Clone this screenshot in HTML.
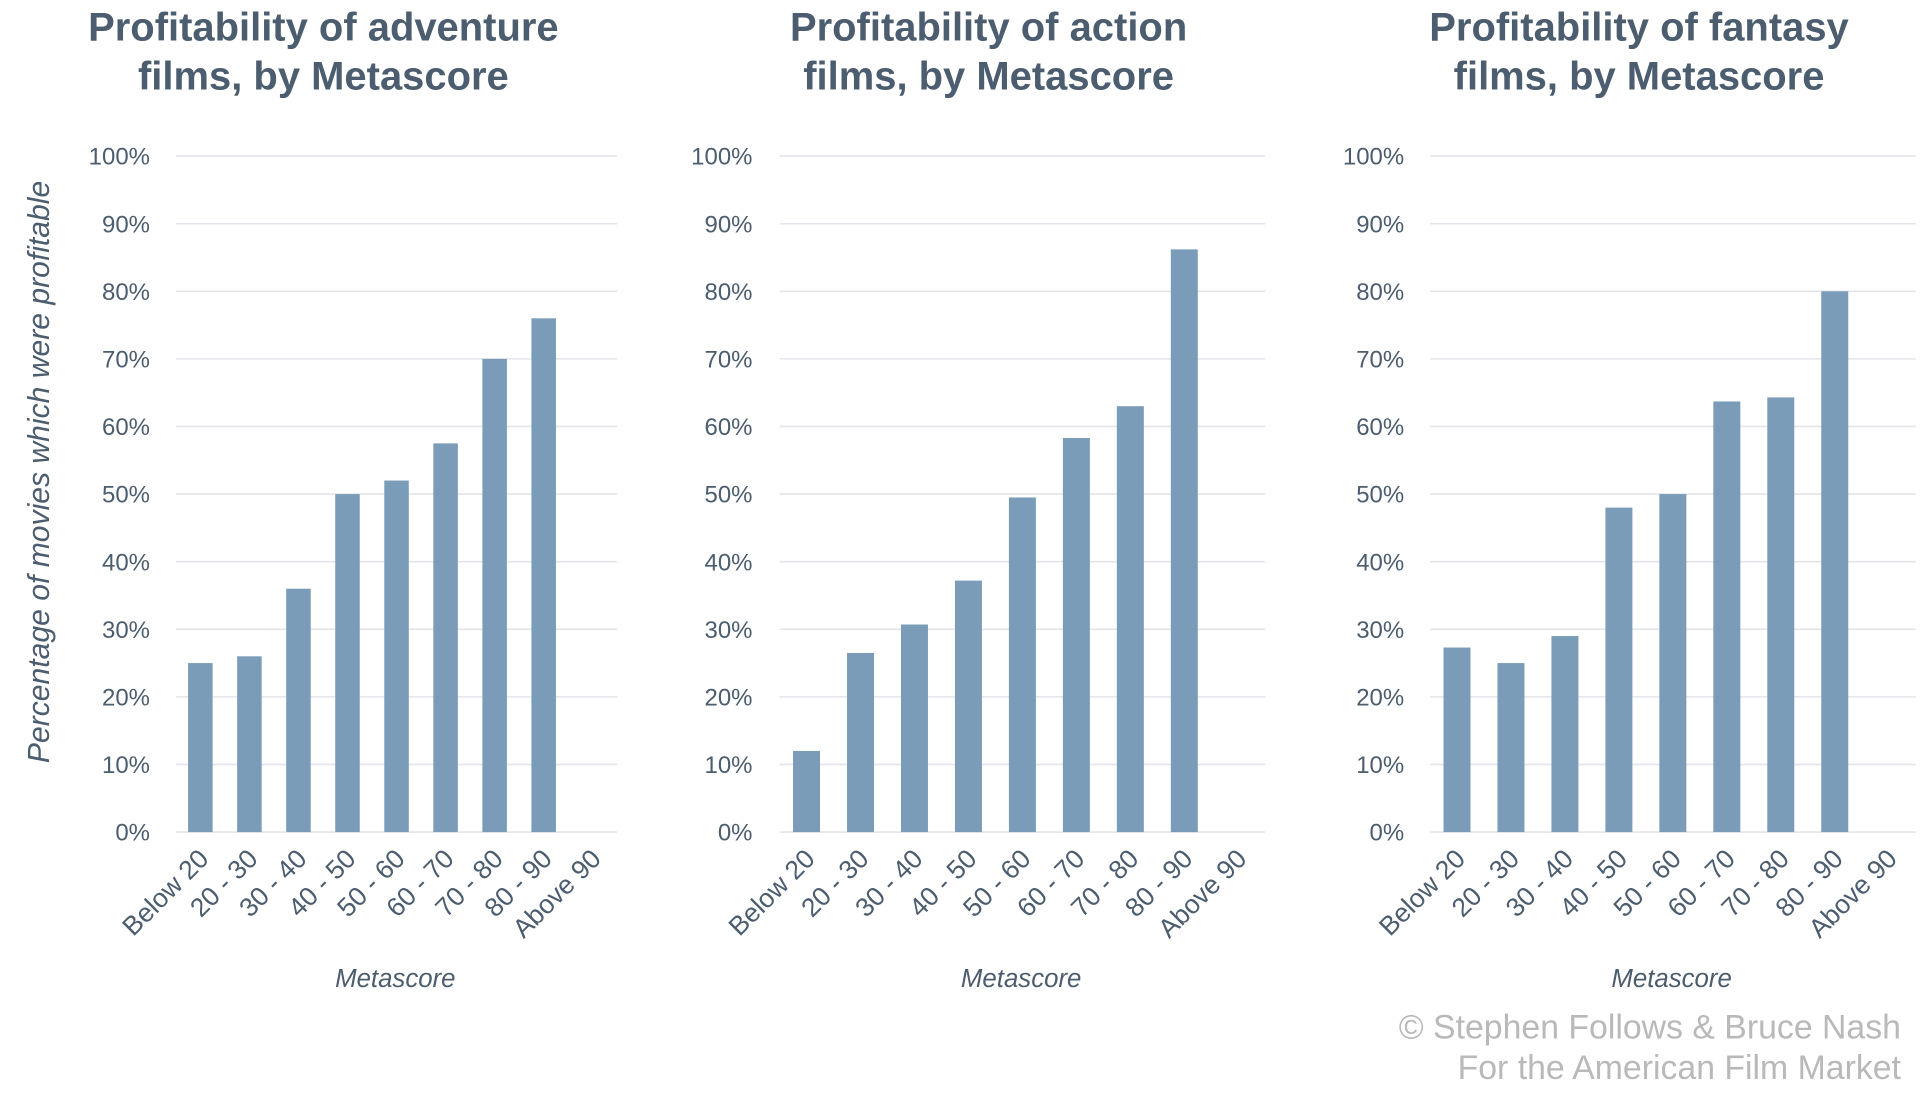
<!DOCTYPE html>
<html><head><meta charset="utf-8"><style>
html,body{margin:0;padding:0;background:#fff;}
svg{display:block;font-family:"Liberation Sans",sans-serif;}
</style></head><body>
<svg id="chart" width="1928" height="1100" viewBox="0 0 1568 895" preserveAspectRatio="none" xmlns="http://www.w3.org/2000/svg">
<text transform="translate(40,384) rotate(-90)" text-anchor="middle" font-size="24.5" font-style="italic" fill="#4b5d6e">Percentage of movies which were profitable</text>
<g fill="#b9b9b9" font-size="27.5" text-anchor="end">
<text x="1546" y="845">© Stephen Follows &amp; Bruce Nash</text>
<text x="1546" y="878">For the American Film Market</text>
</g>
</svg>
<script>
const categories = ["Below 20","20 - 30","30 - 40","40 - 50","50 - 60","60 - 70","70 - 80","80 - 90","Above 90"];
const yTicks = [0,10,20,30,40,50,60,70,80,90,100];
const adventureValues = [25,26,36,50,52,57.5,70,76,0];
const actionValues = [12,26.5,30.7,37.2,49.5,58.3,63,86.2,0];
const fantasyValues = [27.3,25,29,48,50,63.7,64.3,80,0];
const chartTitles = [["Profitability of adventure","films, by Metascore"],["Profitability of action","films, by Metascore"],["Profitability of fantasy","films, by Metascore"]];
const NS="http://www.w3.org/2000/svg";
const svg=document.getElementById('chart');
const panels=[
 {x0:143,x1:502,labelX:122,titleX:263,values:adventureValues,key:'adventure'},
 {x0:634,x1:1029,labelX:612,titleX:804,values:actionValues,key:'action'},
 {x0:1163,x1:1558,labelX:1142,titleX:1333,values:fantasyValues,key:'fantasy'}
];
const yTop=127,yBot=677;
function yScale(v){return yBot-(v/100)*(yBot-yTop);}
function mk(tag,attrs){const e=document.createElementNS(NS,tag);for(const k in attrs)e.setAttribute(k,attrs[k]);return e;}
panels.forEach((p,pi)=>{
 const g=mk('g',{});
 
 
 svg.appendChild(g);
 const band=(p.x1-p.x0)/categories.length;
 const xC=i=>p.x0+band*(i+0.5);
 chartTitles[pi].forEach((line,li)=>{
  const t=mk('text',{x:p.titleX,y:33+li*40,'text-anchor':'middle','font-size':'32.5','font-weight':'bold',fill:'#4b5d6e'});
  
  
  t.textContent=line;g.appendChild(t);
 });
 yTicks.forEach(v=>{
  const y=yScale(v);
  const l=mk('line',{x1:p.x0,x2:p.x1,y1:y,y2:y,stroke:'#e2e5e9','stroke-width':'1.3'});
  
  
  g.appendChild(l);
  const t=mk('text',{x:p.labelX,y:y+7,'text-anchor':'end','font-size':'19.5',fill:'#4b5d6e'});
  
  
  t.textContent=v+'%';g.appendChild(t);
 });
 p.values.forEach((v,i)=>{
  const w=band*0.5;
  const y=yScale(v);
  if(v>0){
   const r=mk('rect',{x:xC(i)-w/2,y:y,width:w,height:yBot-y,fill:'#7a9cb8'});
   
   
   g.appendChild(r);
  }
 });
 categories.forEach((c,i)=>{
  const x=xC(i)+8,y=700;
  const t=mk('text',{x:x,y:y,'text-anchor':'end','font-size':'21.5',fill:'#4b5d6e',transform:`rotate(-45 ${x} ${y})`});
  
  
  t.textContent=c;g.appendChild(t);
 });
 const xt=mk('text',{x:(p.x0+p.x1)/2-1,y:803,'text-anchor':'middle','font-size':'21','font-style':'italic',fill:'#4b5d6e'});
 
 
 xt.textContent='Metascore';g.appendChild(xt);
});
</script>
</body></html>
